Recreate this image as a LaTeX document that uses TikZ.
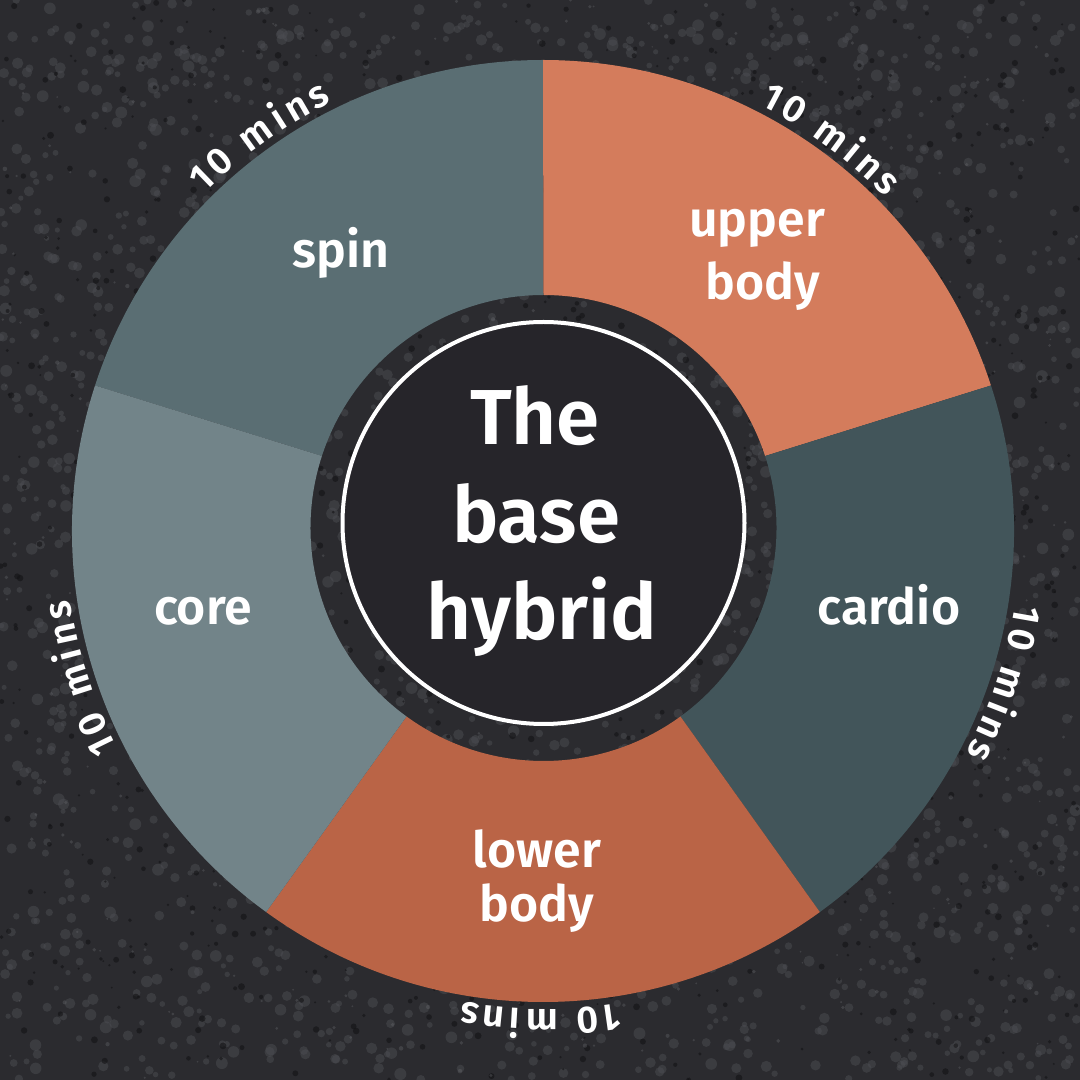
\documentclass[tikz,border=0pt]{standalone}
\usepackage{fontspec}
\setmainfont{Fira Sans}[BoldFont={Fira Sans SemiBold}]
\usetikzlibrary{calc}
\definecolor{bg}{HTML}{2B2B2F}
\definecolor{grainlight}{HTML}{4C4D52}
\definecolor{grainhi}{HTML}{6A6B70}
\definecolor{graindark}{HTML}{131315}
\definecolor{spinc}{HTML}{5A6E73}
\definecolor{upperc}{HTML}{D47C5C}
\definecolor{cardioc}{HTML}{42555A}
\definecolor{lowerc}{HTML}{BA6446}
\definecolor{corec}{HTML}{728489}
\definecolor{innerc}{HTML}{26252A}
\tikzset{
  lbl/.style={text=white, font=\bfseries\fontsize{50}{50}\selectfont, inner sep=0pt, anchor=base},
  ttl/.style={text=white, font=\bfseries\fontsize{78}{78}\selectfont, inner sep=0pt, anchor=base},
  minsch/.style={text=white, font=\bfseries\fontsize{38}{38}\selectfont, inner sep=0pt, anchor=base},
  hub/.style={circle, draw=white, line width=4pt, fill=innerc, minimum size=402pt, inner sep=0pt},
  grainL/.style={fill=grainlight, opacity=0.5},
  grainH/.style={fill=grainhi, opacity=0.35},
  grainD/.style={fill=graindark, opacity=0.6}
}
\begin{document}
\begin{tikzpicture}[x=1pt,y=1pt]
\useasboundingbox (0,0) rectangle (1080,1080);
\fill[bg] (0,0) rectangle (1080,1080);
% texture
\pgfmathsetseed{12}
\foreach \i in {1,...,2500}{
  \pgfmathsetmacro{\px}{rnd*1080}
  \pgfmathsetmacro{\py}{rnd*1080}
  \pgfmathsetmacro{\pr}{2.5+rnd*3.5}
  \fill[grainL] (\px,\py) circle[radius=\pr];
}
\foreach \i in {1,...,1200}{
  \pgfmathsetmacro{\px}{rnd*1080}
  \pgfmathsetmacro{\py}{rnd*1080}
  \pgfmathsetmacro{\pr}{1+rnd*2.5}
  \fill[grainD] (\px,\py) circle[radius=\pr];
}
\foreach \i in {1,...,500}{
  \pgfmathsetmacro{\px}{rnd*1080}
  \pgfmathsetmacro{\py}{rnd*1080}
  \pgfmathsetmacro{\pr}{0.8+rnd*1.5}
  \fill[grainH] (\px,\py) circle[radius=\pr];
}
\coordinate (C) at (543,549);
\coordinate (H) at (543.5,552);
\coordinate (I) at (543.5,557);
% segments
\foreach \a/\b/\c in {90/162/spinc, 18/90/upperc, -54/18/cardioc, -126/-54/lowerc, 162/234/corec}{
  \fill[\c] ($(C)+(\a:471)$) arc[start angle=\a, end angle=\b, radius=471]
     -- ($(H)+(\b:233)$) arc[start angle=\b, end angle=\a, radius=233] -- cycle;
}
% hub
\node[hub] (hub) at (I) {};
\node[ttl] (the) at (535,635) {The};
\node[ttl] (base) at (536,537) {base};
\node[ttl] (hybrid) at (542,440) {hybrid};
% labels
\node[lbl] (spin) at (341,812) {spin};
\node[lbl] (upper) at (757,843) {upper};
\node[lbl] (ubody) at (763,780) {body};
\node[lbl] (cardio) at (889,455) {cardio};
\node[lbl] (lower) at (537,212) {lower};
\node[lbl] (lbody) at (537,158) {body};
\node[lbl] (core) at (203,455) {core};
% 10 mins, set letter by letter along the outer rim (clockwise, tops outward)
\foreach \m [count=\s] in {126,54,-18,-90,198}{
  \foreach \ch/\d [count=\k] in {1/-67.5, 0/-43.5, m/1.1, i/27.4, n/48.4, s/72.0}{
    \pgfmathsetmacro{\th}{\m - \d/478*57.29578}
    \node[minsch, rotate=\th-90] (mins-\s-\k) at ($(C)+(\th:478)$) {\ch};
  }
}
\end{tikzpicture}
\end{document}
